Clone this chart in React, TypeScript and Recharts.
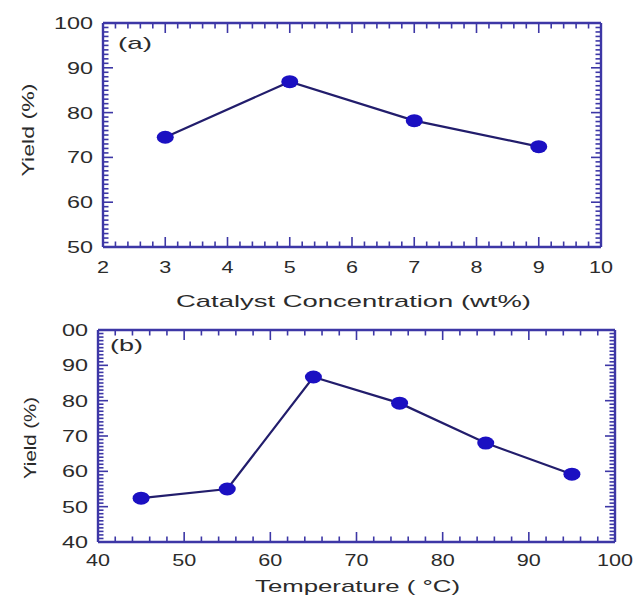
import React from "react";
import { Customized, Line, LineChart, XAxis, YAxis } from "recharts";

// panel (a): yield vs catalyst concentration
const catalyst = [3, 5, 7, 9];
const yieldCatalyst = [74.5, 86.9, 78.2, 72.4];
const catalystTicks = [2, 3, 4, 5, 6, 7, 8, 9, 10];
const yieldTicksA = [50, 60, 70, 80, 90, 100];

// panel (b): yield vs temperature
const temperature = [45, 55, 65, 75, 85, 95];
const yieldTemp = [52.4, 55.0, 86.7, 79.3, 68.0, 59.2];
const tempTicks = [40, 50, 60, 70, 80, 90, 100];
const yieldTicksB = [40, 50, 60, 70, 80, 90, 100];

const FONT = '"Liberation Sans", Arial, Helvetica, sans-serif';
const FRAME = "#3d37a6";
const LINE = "#221d6c";
const DOT = "#1b10c2";
const TEXT = "#2b2b2b";

// minor tick positions between the labelled ones
const steps = (lo: number, hi: number, step: number) => {
  const out: number[] = [];
  for (let v = lo; v <= hi + 1e-9; v += step) out.push(Math.round(v * 100) / 100);
  return out;
};

type Side = "bottom" | "top" | "left" | "right";

const makeTick =
  (side: Side, majors: number[], label?: (v: number) => string, labelGap = 0) =>
  (props: any) => {
    const { x, y, payload, index } = props;
    const v = payload.value;
    const major = majors.includes(v);
    const len = major ? 10 : 5.5;
    let x2 = x;
    let y2 = y;
    if (side === "bottom") y2 = y - len;
    if (side === "top") y2 = y + len;
    if (side === "left") x2 = x + len;
    if (side === "right") x2 = x - len;
    const txt = major && label ? label(v) : null;
    return (
      <g key={`${side}-${index}`}>
        <line x1={x} y1={y} x2={x2} y2={y2} stroke={FRAME} strokeWidth={1.6} />
        {txt !== null && side === "bottom" && (
          <text
            x={x}
            y={y + labelGap}
            textAnchor="middle"
            fontSize={17}
            fontFamily={FONT}
            fill={TEXT}
            textLength={txt.length * 12}
            lengthAdjust="spacingAndGlyphs"
          >
            {txt}
          </text>
        )}
        {txt !== null && side === "left" && (
          <text
            x={x - labelGap}
            y={y + 6}
            textAnchor="end"
            fontSize={17}
            fontFamily={FONT}
            fill={TEXT}
            textLength={txt.length * 13}
            lengthAdjust="spacingAndGlyphs"
          >
            {txt}
          </text>
        )}
      </g>
    );
  };

const Dot = (props: any) => {
  const { cx, cy, index } = props;
  return <ellipse key={index} cx={cx} cy={cy} rx={8.5} ry={6.5} fill={DOT} />;
};

const Txt = ({ x, y, w, children, rotate }: any) => (
  <text
    x={x}
    y={y}
    textAnchor={rotate ? "middle" : "start"}
    transform={rotate ? `rotate(-90, ${x}, ${y - 6})` : undefined}
    fontSize={17}
    fontFamily={FONT}
    fill={TEXT}
    textLength={w}
    lengthAdjust="spacingAndGlyphs"
  >
    {children}
  </text>
);

interface PanelProps {
  data: { x: number; y: number }[];
  xDomain: [number, number];
  yDomain: [number, number];
  xMajors: number[];
  yMajors: number[];
  xMinor: number;
  yMinor: number;
  height: number;
  margin: { top: number; right: number; bottom: number; left: number };
  yLabel: (v: number) => string;
  xLabelGap: number;
  overlay: React.ReactNode;
}

function Panel(p: PanelProps) {
  const xTicks = steps(p.xDomain[0], p.xDomain[1], p.xMinor);
  const yTicks = steps(p.yDomain[0], p.yDomain[1], p.yMinor);
  const axisLine = { stroke: FRAME, strokeWidth: 2.4 };
  // axes are 1px thick so they sit on the plot frame; labels overflow into the margins
  return (
    <LineChart width={637} height={p.height} data={p.data} margin={p.margin} style={{ overflow: "visible" }}>
      <XAxis
        dataKey="x"
        type="number"
        domain={p.xDomain}
        allowDataOverflow
        ticks={xTicks}
        interval={0}
        height={1}
        tickSize={0}
        tickMargin={0}
        tickLine={false}
        axisLine={axisLine}
        tick={makeTick("bottom", p.xMajors, (v) => String(v), p.xLabelGap)}
      />
      <XAxis
        xAxisId="top"
        orientation="top"
        dataKey="x"
        type="number"
        domain={p.xDomain}
        allowDataOverflow
        ticks={xTicks}
        interval={0}
        height={1}
        tickSize={0}
        tickMargin={0}
        tickLine={false}
        axisLine={axisLine}
        tick={makeTick("top", p.xMajors)}
      />
      <YAxis
        type="number"
        domain={p.yDomain}
        allowDataOverflow
        ticks={yTicks}
        interval={0}
        width={1}
        tickSize={0}
        tickMargin={0}
        tickLine={false}
        axisLine={axisLine}
        tick={makeTick("left", p.yMajors, p.yLabel, 10)}
      />
      <YAxis
        yAxisId="right"
        orientation="right"
        type="number"
        domain={p.yDomain}
        allowDataOverflow
        ticks={yTicks}
        interval={0}
        width={1}
        tickSize={0}
        tickMargin={0}
        tickLine={false}
        axisLine={axisLine}
        tick={makeTick("right", p.yMajors)}
      />
      <Line
        dataKey="y"
        stroke={LINE}
        strokeWidth={2.2}
        dot={Dot}
        activeDot={false}
        isAnimationActive={false}
      />
      <Line
        dataKey="y"
        xAxisId="top"
        yAxisId="right"
        stroke="none"
        dot={false}
        activeDot={false}
        isAnimationActive={false}
      />
      <Customized component={() => <g>{p.overlay}</g>} />
    </LineChart>
  );
}

export default function App() {
  const dataA = catalyst.map((c, i) => ({ x: c, y: yieldCatalyst[i] }));
  const dataB = temperature.map((t, i) => ({ x: t, y: yieldTemp[i] }));
  return (
    <div style={{ position: "absolute", left: 0, top: 0, width: 637, height: 597, background: "#fff" }}>
      <div style={{ position: "absolute", left: 0, top: 0 }}>
        <Panel
          data={dataA}
          xDomain={[2, 10]}
          yDomain={[50, 100]}
          xMajors={catalystTicks}
          yMajors={yieldTicksA}
          xMinor={0.2}
          yMinor={1}
          height={320}
          margin={{ top: 22, right: 35, bottom: 72, left: 102 }}
          yLabel={(v) => String(v)}
          xLabelGap={26}
          overlay={
            <>
              <Txt x={118} y={49} w={34}>(a)</Txt>
              <Txt x={176} y={307} w={355}>Catalyst Concentration (wt%)</Txt>
              <Txt x={28} y={136} w={93} rotate>Yield (%)</Txt>
            </>
          }
        />
      </div>
      <div style={{ position: "absolute", left: 0, top: 297 }}>
        <Panel
          data={dataB}
          xDomain={[40, 100]}
          yDomain={[40, 100]}
          xMajors={tempTicks}
          yMajors={yieldTicksB}
          xMinor={2}
          yMinor={1}
          height={300}
          margin={{ top: 32, right: 21, bottom: 54, left: 97 }}
          yLabel={(v) => (v === 100 ? "00" : String(v))}
          xLabelGap={24}
          overlay={
            <>
              <Txt x={110} y={54} w={33}>(b)</Txt>
              <Txt x={255} y={295} w={205}>Temperature ( °C)</Txt>
              <Txt x={30} y={147} w={82} rotate>Yield (%)</Txt>
            </>
          }
        />
      </div>
    </div>
  );
}
